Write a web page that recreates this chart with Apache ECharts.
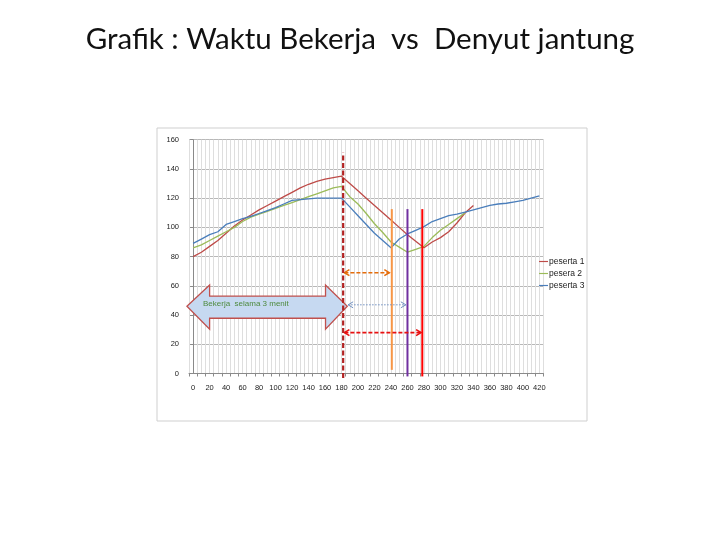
<!DOCTYPE html>
<html><head><meta charset="utf-8">
<script src="https://cdn.jsdelivr.net/npm/echarts@6/dist/echarts.min.js"></script>
<style>html,body{margin:0;padding:0;background:#fff}#c{width:720px;height:540px}</style>
</head><body><div id="c"></div>
<script>
// ---- data ----
const time = [0,10,20,30,40,50,60,70,80,90,100,110,120,130,140,150,160,170,180,190,200,210,220,230,240,250,260,270,280,290,300,310,320,330,340,350,360,370,380,390,400,410,420];
const peserta1 = [80,83,87,91,96,101,105,108.5,112,115,118,121,124,127,129.5,131.5,133,134,135,130,125,120,115,110,105,100,95,90.5,86,90,93,97,103,110,115,null,null,null,null,null,null,null,null];
const pesera2  = [86,88,91,94,97,100,104,107,109,111,113,115,117,119,121,123,125,127,128,121,116,109.5,102.5,96.5,90,86.5,83,85,87,93,98,102,106,110,null,null,null,null,null,null,null,null,null];
const peserta3 = [89,92,95,97,102,104,106,107.5,109.5,111.5,113.5,116,118.5,119,119.5,120,120,120,120,114,108,102,96,91,86,92,95.5,98,100.5,104,106,108,109,110.5,112,113.5,115,116,116.5,117.5,118.5,120,121.5];
const seriesNames = ['peserta 1','pesera 2','peserta 3'];
const xTickLabels = [0,20,40,60,80,100,120,140,160,180,200,220,240,260,280,300,320,340,360,380,400,420];
const yTicks = [0,20,40,60,80,100,120,140,160];
// annotations (data units)
const workEndTime = 182;
const workEndRange = [-3, 151];
const recoveryTimes = [241, 260, 278];
const recoveryRanges = [[2.5,112.5],[-2,112.5],[-2,112.5]];
const spanArrows = [[183.5,238,69],[188,258,47],[183.5,276.5,28]];
const workArrowShape = [[-7.5,46],[20,60.6],[20,53],[160.6,53],[160.6,60.6],[187,46],[160.6,30.3],[160.6,37.8],[20,37.8],[20,30.3]];
const workArrowLabel = 'Bekerja  selama 3 menit';
const workArrowLabelPos = [64, 47.5];
const titleText = 'Grafik : Waktu Bekerja  vs  Denyut jantung';

// ---- chart ----
const colors = ['#BE4B48','#9BBB59','#4A7EBB'];
const chart = echarts.init(document.getElementById('c'));
const lineSeries = [peserta1, pesera2, peserta3].map((vals, k) => ({
  name: seriesNames[k], type: 'line', symbol: 'none', showSymbol: false,
  data: time.map((t,i) => [t, vals[i]]).filter(d => d[1] != null),
  lineStyle: {width: 1.3, color: colors[k]}, itemStyle: {color: colors[k]}, z: 3
}));

function annotations(params, api) {
  const P = p => api.coord(p);
  const ch = [];
  ch.push({type:'polygon', shape:{points: workArrowShape.map(P)},
           style:{fill:'#C6D9F1', stroke:'#C0504D', lineWidth:1.3}});
  const lp = P(workArrowLabelPos);
  ch.push({type:'text', style:{text: workArrowLabel, x: lp[0], y: lp[1], align:'center', verticalAlign:'middle',
           fill:'#4E8A3E', font:'8px "Liberation Sans"'}});
  const vcol = ['#F79646','#7030A0','#FF0000'];
  recoveryTimes.forEach((t,i) => {
    const a = P([t, recoveryRanges[i][0]]), b = P([t, recoveryRanges[i][1]]);
    ch.push({type:'line', shape:{x1:a[0],y1:a[1],x2:b[0],y2:b[1]}, style:{stroke:vcol[i], lineWidth:2}});
  });
  const acol = ['#E46C0A','#6F8FC0','#E81010'];
  const adash = [[4,2],[1.5,1.5],[4,2]];
  const aw = [1.5,1,1.6];
  spanArrows.forEach((s,i) => {
    const a = P([s[0], s[2]]), b = P([s[1], s[2]]);
    ch.push({type:'line', shape:{x1:a[0],y1:a[1],x2:b[0],y2:b[1]}, style:{stroke:acol[i], lineWidth:aw[i], lineDash:adash[i]}});
    const h = 5, w = 3;
    ch.push({type:'polyline', shape:{points:[[a[0]+h,a[1]-w],[a[0],a[1]],[a[0]+h,a[1]+w]]}, style:{stroke:acol[i], lineWidth:aw[i], fill:null}});
    ch.push({type:'polyline', shape:{points:[[b[0]-h,b[1]-w],[b[0],b[1]],[b[0]-h,b[1]+w]]}, style:{stroke:acol[i], lineWidth:aw[i], fill:null}});
  });
  const t1 = P([workEndTime, workEndRange[0]]), t2 = P([workEndTime, workEndRange[1]]);
  ch.push({type:'line', shape:{x1:t1[0],y1:t1[1],x2:t2[0],y2:t2[1]}, style:{stroke:'#B22222', lineWidth:2.2, lineDash:[5,2.5]}});
  return {type:'group', children: ch};
}

chart.setOption({
  animation: false,
  backgroundColor: '#fff',
  title: {text: titleText, left: 'center', top: 19,
          textStyle:{fontFamily:'Lato', fontSize:29.5, fontWeight:'normal', color:'#111'}},
  graphic: [{type:'rect', shape:{x:157, y:128, width:430, height:293}, style:{fill:'none', stroke:'#cfcfcf', lineWidth:1}, z:-1}],
  legend: {data: seriesNames, orient:'vertical', left: 539, top: 257, padding: 0,
           icon: 'path://M0,0L10,0L10,1.3L0,1.3Z',
           itemWidth: 9, itemHeight: 10, itemGap: 3,
           textStyle:{fontSize: 8.5, fontFamily:'Liberation Sans', color:'#222', padding:[0,0,0,-4]}},
  grid: {left: 189, right: 176.5, top: 139.7, bottom: 166.5},
  xAxis: [{
    type:'value', min:-5, max:425, interval:5, position:'bottom',
    axisLine:{show:true, onZero:false, lineStyle:{color:'#8a8a8a'}},
    axisTick:{show:false},
    axisLabel:{fontSize:7.5, fontFamily:'Liberation Sans', color:'#222', margin:10,
               formatter: v => xTickLabels.indexOf(v) >= 0 ? String(v) : ''},
    splitLine:{show:true, lineStyle:{color:'#dedede', width:1}}
  },{
    type:'value', min:-5, max:425, interval:10, position:'bottom',
    axisLine:{show:false}, axisLabel:{show:false}, splitLine:{show:false},
    axisTick:{show:true, length:3, lineStyle:{color:'#8a8a8a'}}
  }],
  yAxis: {
    type:'value', min:0, max:160, interval:20,
    axisLine:{show:true, lineStyle:{color:'#8a8a8a'}},
    axisTick:{show:true, length:3, lineStyle:{color:'#8a8a8a'}},
    axisLabel:{fontSize:7.5, fontFamily:'Liberation Sans', color:'#222', margin:10,
               formatter: v => yTicks.indexOf(v) >= 0 ? String(v) : ''},
    splitLine:{show:true, lineStyle:{color:'#b8b8b8', width:1}}
  },
  series: lineSeries.concat([{
    type:'custom', coordinateSystem:'cartesian2d', data:[[0,0]], renderItem: annotations,
    clip:false, silent:true, z:4
  }])
});
</script></body></html>
